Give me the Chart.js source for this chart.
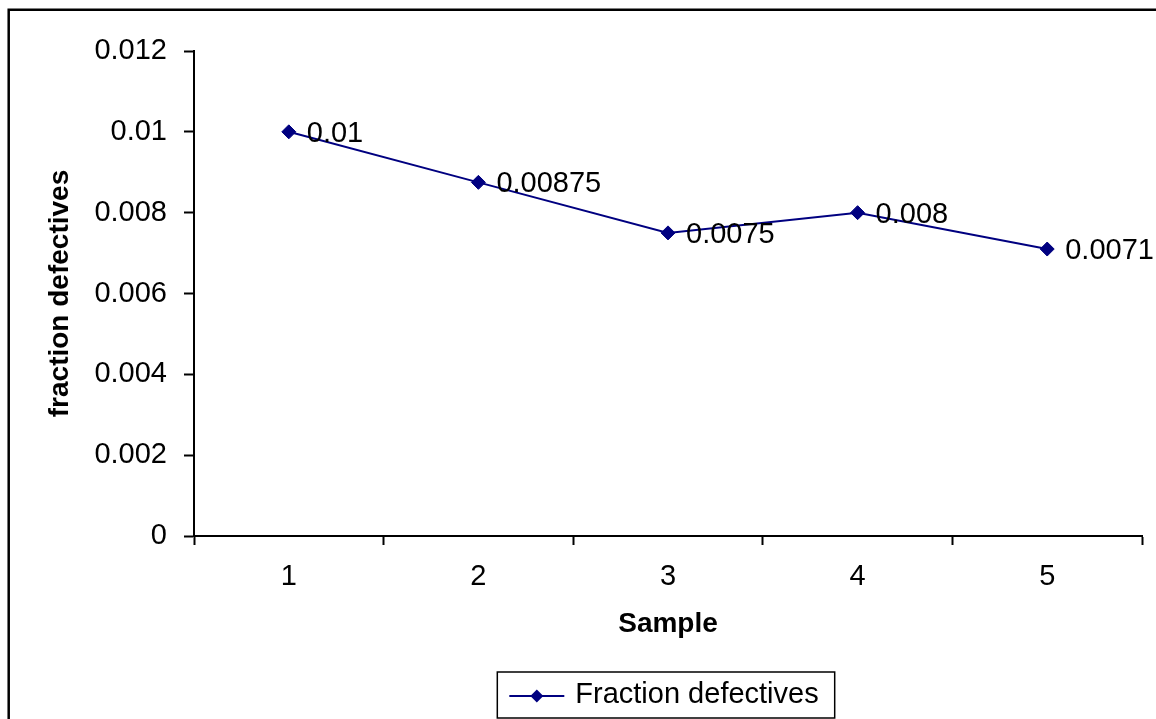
<!DOCTYPE html>
<html>
<head>
<meta charset="utf-8">
<script src="https://cdn.jsdelivr.net/npm/chart.js@4"></script>
<style>
  html, body { margin: 0; padding: 0; background: #fff; }
  #wrap { width: 1156px; height: 719px; }
</style>
</head>
<body>
<div id="wrap"><canvas id="chart" width="1156" height="719"></canvas></div>
<script>
// --- data ---
const SAMPLES   = ['1', '2', '3', '4', '5'];
const FRACTIONS = [0.01, 0.00875, 0.0075, 0.008, 0.0071];
const Y_TICKS   = [0, 0.002, 0.004, 0.006, 0.008, 0.01, 0.012];

const FONT = 'Liberation Sans, Arial, sans-serif';
const NAVY = '#000080';

// thick frame round the chart (left + top edges, rest is cut off)
const framePlugin = {
  id: 'frame',
  beforeDraw(chart) {
    const { ctx, width, height } = chart;
    ctx.save();
    ctx.fillStyle = '#fff';
    ctx.fillRect(0, 0, width, height);
    ctx.strokeStyle = '#000';
    ctx.lineWidth   = 2.5;
    ctx.beginPath();
    ctx.moveTo(8.7, height);
    ctx.lineTo(8.7, 9.8);
    ctx.lineTo(width, 9.8);
    ctx.stroke();
    ctx.restore();
  },
};

// value labels to the right of each point
const valueLabels = {
  id: 'valueLabels',
  afterDatasetsDraw(chart) {
    const { ctx } = chart;
    const meta = chart.getDatasetMeta(0);
    ctx.save();
    ctx.fillStyle    = '#000';
    ctx.font         = `29px ${FONT}`;
    ctx.textAlign    = 'left';
    ctx.textBaseline = 'middle';
    meta.data.forEach((pt, i) => {
      ctx.fillText(String(FRACTIONS[i]), pt.x + 18, pt.y + 2);
    });
    ctx.restore();
  },
};

// boxed legend centred under the plot
const boxedLegend = {
  id: 'boxedLegend',
  afterDraw(chart) {
    const { ctx, chartArea } = chart;
    const ds = chart.data.datasets[0];
    ctx.save();
    ctx.font = `29px ${FONT}`;
    const textW = ctx.measureText(ds.label).width;
    const lineW = 55;
    const boxW  = 12 + lineW + 11 + textW + 16;
    const boxH  = 46;
    const cx    = (chartArea.left + chartArea.right) / 2 - 2;
    const left  = cx - boxW / 2;
    const top   = 672;
    const midY  = top + boxH / 2 + 1;

    ctx.strokeStyle = '#000';
    ctx.lineWidth   = 1.5;
    ctx.strokeRect(left, top, boxW, boxH);

    ctx.strokeStyle = NAVY;
    ctx.lineWidth   = 2;
    ctx.beginPath();
    ctx.moveTo(left + 12, midY);
    ctx.lineTo(left + 12 + lineW, midY);
    ctx.stroke();

    const px = left + 12 + lineW / 2, r = 6.5;
    ctx.fillStyle = NAVY;
    ctx.beginPath();
    ctx.moveTo(px - r, midY);
    ctx.lineTo(px, midY - r);
    ctx.lineTo(px + r, midY);
    ctx.lineTo(px, midY + r);
    ctx.closePath();
    ctx.fill();

    ctx.fillStyle    = '#000';
    ctx.textAlign    = 'left';
    ctx.textBaseline = 'middle';
    ctx.fillText(ds.label, left + 12 + lineW + 11, midY - 1);
    ctx.restore();
  },
};

new Chart(document.getElementById('chart'), {
  type: 'line',
  data: {
    labels: SAMPLES,
    datasets: [{
      label:            'Fraction defectives',
      data:             FRACTIONS,
      borderColor:      NAVY,
      backgroundColor:  NAVY,
      borderWidth:      2,
      pointStyle:       'rectRot',
      pointRadius:      7,
      pointBorderWidth: 1,
      pointBackgroundColor: NAVY,
      pointBorderColor: NAVY,
      tension:          0,
      fill:             false,
    }],
  },
  options: {
    responsive: false,
    animation:  false,
    layout: { padding: { left: 0, right: 14, top: 51, bottom: 0 } },
    plugins: {
      legend:  { display: false },
      tooltip: { enabled: false },
    },
    scales: {
      x: {
        offset: true,
        grid: {
          offset: true,
          drawOnChartArea: false,
          drawTicks: true,
          tickLength: 9,
          tickWidth: 2,
          color: '#000',
        },
        border: { display: true, color: '#000', width: 2 },
        ticks: {
          color: '#000',
          padding: 15,
          font: { family: FONT, size: 29 },
          maxRotation: 0,
        },
        title: {
          display: true,
          text: 'Sample',
          color: '#000',
          font: { family: FONT, size: 28, weight: 'bold' },
          padding: { top: 0, bottom: 78 },
        },
        afterFit(scale) { scale.height = 719 - 536; },
      },
      y: {
        min: 0,
        max: 0.012,
        afterBuildTicks(scale) { scale.ticks = Y_TICKS.map(v => ({ value: v })); },
        grid: {
          drawOnChartArea: false,
          drawTicks: true,
          tickLength: 10,
          tickWidth: 2,
          color: '#000',
        },
        border: { display: true, color: '#000', width: 2 },
        ticks: {
          color: '#000',
          padding: 17,
          font: { family: FONT, size: 29 },
          callback: v => String(+v.toFixed(3)),
        },
        title: {
          display: true,
          text: 'fraction defectives',
          color: '#000',
          font: { family: FONT, size: 28, weight: 'bold' },
          padding: { top: 43, bottom: 0 },
        },
        afterFit(scale) { scale.width = 194; },
      },
    },
  },
  plugins: [framePlugin, valueLabels, boxedLegend],
});
</script>
</body>
</html>
